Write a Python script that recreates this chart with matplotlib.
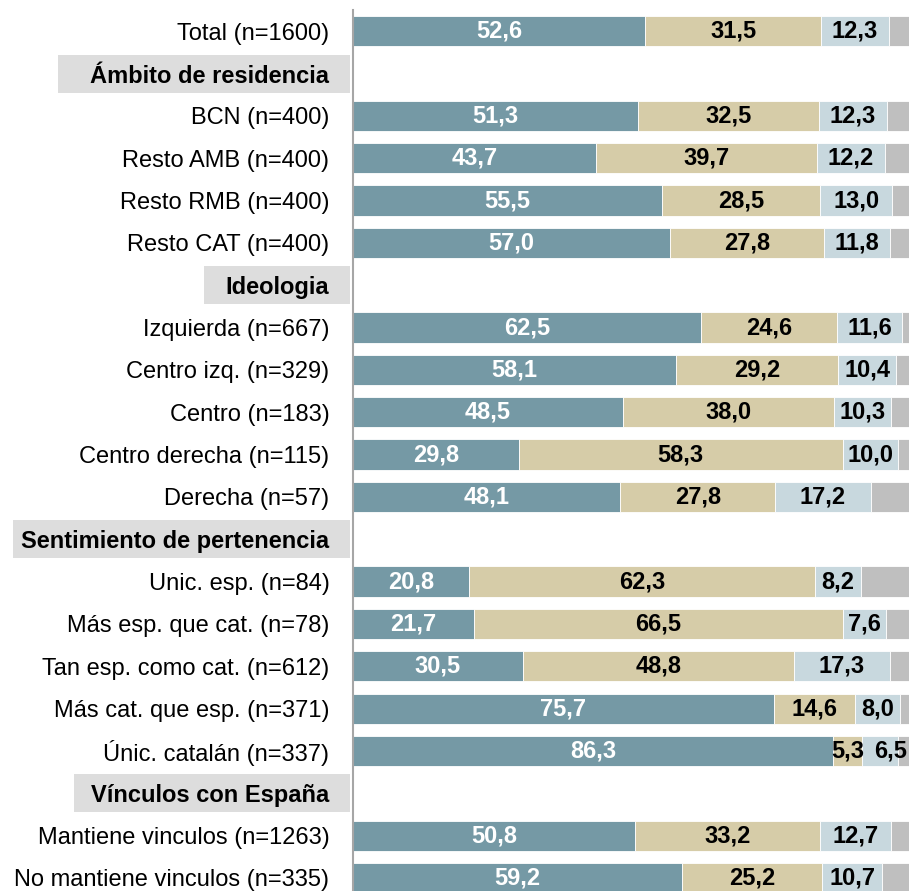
import numpy as np
import matplotlib
matplotlib.use("Agg")
import matplotlib.pyplot as plt
from matplotlib.patches import Rectangle

plt.rcParams['font.family'] = ['Liberation Sans', 'DejaVu Sans']

## data (top to bottom), None = section header row
labels = ['Total (n=1600)', 'Ámbito de residencia', 'BCN (n=400)', 'Resto AMB (n=400)',
          'Resto RMB (n=400)', 'Resto CAT (n=400)', 'Ideologia', 'Izquierda (n=667)',
          'Centro izq. (n=329)', 'Centro (n=183)', 'Centro derecha (n=115)', 'Derecha (n=57)',
          'Sentimiento de pertenencia', 'Unic. esp. (n=84)', 'Más esp. que cat. (n=78)',
          'Tan esp. como cat. (n=612)', 'Más cat. que esp. (n=371)', 'Únic. catalán (n=337)',
          'Vínculos con España', 'Mantiene vinculos (n=1263)', 'No mantiene vinculos (n=335)']
is_header = [False, True, False, False, False, False, True, False, False, False, False, False,
             True, False, False, False, False, False, True, False, False]

s1 = [52.6, None, 51.3, 43.7, 55.5, 57.0, None, 62.5, 58.1, 48.5, 29.8, 48.1,
      None, 20.8, 21.7, 30.5, 75.7, 86.3, None, 50.8, 59.2]
s2 = [31.5, None, 32.5, 39.7, 28.5, 27.8, None, 24.6, 29.2, 38.0, 58.3, 27.8,
      None, 62.3, 66.5, 48.8, 14.6, 5.3, None, 33.2, 25.2]
s3 = [12.3, None, 12.3, 12.2, 13.0, 11.8, None, 11.6, 10.4, 10.3, 10.0, 17.2,
      None, 8.2, 7.6, 17.3, 8.0, 6.5, None, 12.7, 10.7]
s4 = [3.6, None, 3.9, 4.4, 3.0, 3.4, None, 1.3, 2.3, 3.2, 1.9, 6.9,
      None, 8.7, 4.2, 3.4, 1.7, 1.9, None, 3.3, 4.9]

colors = ['#7599A5', '#D6CCA8', '#C8D8DE', '#BFBFBF']
text_colors = ['white', 'black', 'black', None]

W, H = 909, 891
fig = plt.figure(figsize=(W / 100, H / 100), dpi=100)
ax = fig.add_axes([353 / W, 0, 556 / W, (H - 10) / H])

## label nudges (row, series) -> x shift in % units, to avoid overlap
nudge = {(17, 2): 1.8}

y = np.arange(len(labels))
series = [s1, s2, s3, s4]
for i in range(len(labels)):
    if is_header[i]:
        continue
    left = 0
    for k, s in enumerate(series):
        v = s[i]
        ax.barh(y[i], v, left=left, height=0.71, color=colors[k],
                edgecolor='white', linewidth=0.6)
        if text_colors[k] is not None:
            ax.text(left + v / 2 + nudge.get((i, k), 0), y[i], f'{v:.1f}'.replace('.', ','),
                    ha='center', va='center', fontsize=17, fontweight='bold',
                    color=text_colors[k])
        left += v

ax.set_xlim(0, 100)
ax.set_ylim(20.31, -0.5)
ax.set_xticks([])
ax.set_yticks(y)
ax.set_yticklabels(labels, fontsize=17)
ax.tick_params(axis='y', length=0, pad=17)
for lab, h in zip(ax.get_yticklabels(), is_header):
    if h:
        lab.set_fontweight('bold')

for side in ['top', 'right', 'bottom']:
    ax.spines[side].set_visible(False)
ax.spines['left'].set_color('#A6A6A6')
ax.spines['left'].set_linewidth(1.5)

## grey boxes behind the section headers
fig.canvas.draw()
r = fig.canvas.get_renderer()
pads = iter([32, 22, 8, 17])
for lab, h, yy in zip(ax.get_yticklabels(), is_header, y):
    if not h:
        continue
    bb = lab.get_window_extent(r)
    yc = ax.transData.transform((0, yy))[1]
    x0 = max(bb.x0 - next(pads), 8)
    fig.patches.append(Rectangle((x0 / W, (yc - 19) / H), (350 - x0) / W, 38 / H,
                                 transform=fig.transFigure, facecolor='#DDDDDD',
                                 edgecolor='none', zorder=-1))

fig.savefig('out.png', dpi=100)
